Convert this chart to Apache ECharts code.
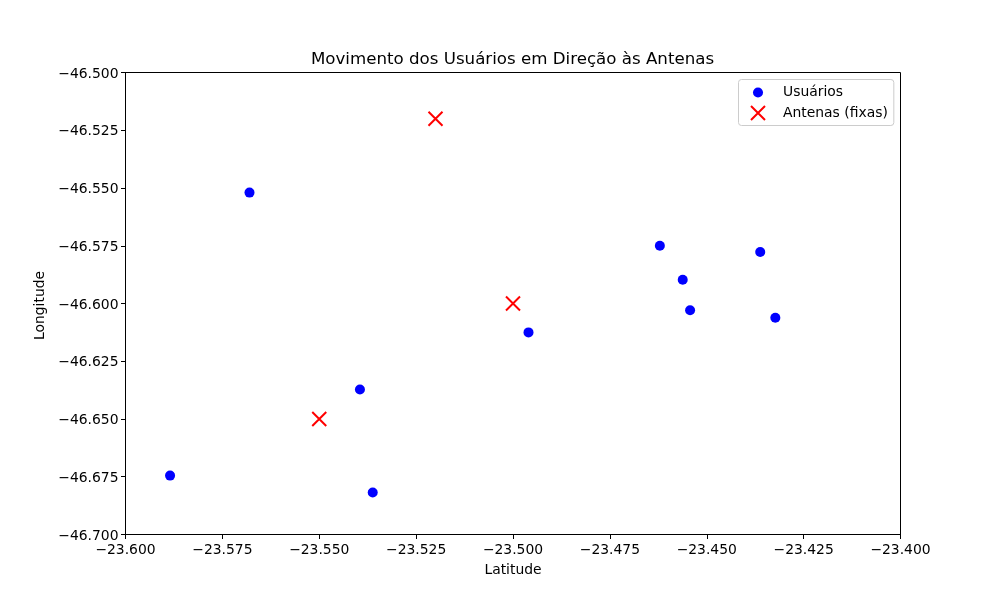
<!DOCTYPE html>
<html><head><meta charset="utf-8">
<script src="https://cdn.jsdelivr.net/npm/echarts@6/dist/echarts.min.js"></script>
<style>html,body{margin:0;padding:0;background:#fff}#c{width:1000px;height:600px}</style>
</head><body><div id="c"></div>
<script>
const chartTitle = 'Movimento dos Usuários em Direção às Antenas';
const xName = 'Latitude', yName = 'Longitude';
const userSeriesName = 'Usuários', antennaSeriesName = 'Antenas (fixas)';
const users = [[-23.568,-46.552],[-23.4621,-46.575],[-23.4562,-46.5897],[-23.4543,-46.6029],[-23.4362,-46.5777],[-23.4323,-46.6062],[-23.496,-46.6125],[-23.5395,-46.6372],[-23.5885,-46.6745],[-23.5362,-46.6818]];
const antennas = [[-23.52,-46.52],[-23.5,-46.6],[-23.55,-46.65]];
const font = '"DejaVu Sans"';
const fmt = (d) => (v) => v.toFixed(d).replace('-', '\u2212');
const crossIcon = 'path://M0 0L100 100M100 0L0 100';
const legendDot = 'path://M0 0L0 0M100 100L100 100M14 50A36 36 0 1 1 86 50A36 36 0 1 1 14 50Z';
const axisCommon = {
  nameLocation:'middle',
  axisLine:{onZero:false,lineStyle:{color:'#000',width:1}},
  axisTick:{inside:false,length:4.5,lineStyle:{color:'#000',width:1}},
  splitLine:{show:false}
};
const labelBase = {fontFamily:font,fontSize:13.9,color:'#000',showMinLabel:true,showMaxLabel:true,formatter:fmt(3)};
const chart = echarts.init(document.getElementById('c'),null,{renderer:'canvas'});
chart.setOption({
  animation:false, backgroundColor:'#fff',
  title:{text:chartTitle,left:507.5,top:46,textAlign:'center',textStyle:{fontFamily:font,fontSize:16.67,fontWeight:'normal',color:'#000'}},
  grid:{left:125.5,right:99.5,top:72.5,bottom:65.5,show:true,borderColor:'#000',borderWidth:1,backgroundColor:'#fff'},
  xAxis:{type:'value',min:-23.6,max:-23.4,interval:0.025,name:xName,nameGap:29,
    nameTextStyle:{fontFamily:font,fontSize:13.9,color:'#000'},
    axisLabel:{...labelBase,margin:9},...axisCommon},
  yAxis:{type:'value',min:-46.7,max:-46.5,interval:0.025,name:yName,nameGap:71,
    nameTextStyle:{fontFamily:font,fontSize:13.9,color:'#000',padding:[0,4,0,0]},
    axisLabel:{...labelBase,margin:7,formatter:(v)=>'{a|'+fmt(3)(v)+'}',rich:{a:{fontFamily:font,fontSize:13.9,color:'#000',padding:[3,0,0,0]}}},...axisCommon},
  legend:{show:true,orient:'vertical',left:738.5,top:79.5,padding:[6,6,3,10],itemGap:4,itemWidth:14,itemHeight:14,
    backgroundColor:'rgba(255,255,255,0.8)',borderColor:'#ccc',borderWidth:1,borderRadius:3,
    textStyle:{fontFamily:font,fontSize:13.9,color:'#000',padding:[0,0,0,13]},
    data:[
      {name:userSeriesName,icon:legendDot,itemStyle:{color:'#0000ff',borderWidth:0,opacity:1}},
      {name:antennaSeriesName,icon:crossIcon,itemStyle:{color:'none',borderColor:'#ff0000',borderWidth:2,opacity:1}}
    ]},
  series:[
    {name:userSeriesName,type:'scatter',data:users,symbol:'circle',symbolSize:10,itemStyle:{color:'#0000ff',opacity:1}},
    {name:antennaSeriesName,type:'scatter',data:antennas,symbol:crossIcon,symbolSize:14,itemStyle:{color:'none',borderColor:'#ff0000',borderWidth:2,opacity:1}}
  ]
});
</script></body></html>
